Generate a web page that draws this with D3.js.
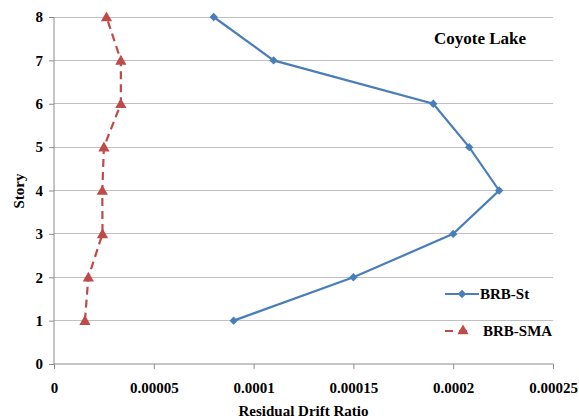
<!DOCTYPE html>
<html><head><meta charset="utf-8">
<script src="https://cdn.jsdelivr.net/npm/d3@7"></script>
<style>
body{margin:0;background:#fff;}
</style></head>
<body><svg id="c" width="579" height="419"></svg>
<script>
const stories = [1,2,3,4,5,6,7,8];
const brbSt = [0.00009,0.00015,0.0002,0.000223,0.000208,0.00019,0.00011,0.00008];
const brbSma = [0.0000155,0.0000172,0.0000243,0.0000242,0.000025,0.0000335,0.0000335,0.0000263];
const xTicks = [0,0.00005,0.0001,0.00015,0.0002,0.00025];
const xTickLabels = ["0","0.00005","0.0001","0.00015","0.0002","0.00025"];
const yTicks = [0,1,2,3,4,5,6,7,8];
const seriesNames = ["BRB-St","BRB-SMA"];
const title = "Coyote Lake";

const FONT = "'Liberation Serif'";
const svg = d3.select("#c");
const m = {l:54,r:553,t:17,b:364};
const x = d3.scaleLinear().domain([0,0.00025]).range([m.l,m.r]);
const y = d3.scaleLinear().domain([0,8]).range([m.b,m.t]);

// gridlines
svg.append("g").selectAll("line").data(yTicks.slice(1)).join("line")
  .attr("x1",m.l).attr("x2",m.r).attr("y1",d=>y(d)).attr("y2",d=>y(d))
  .attr("stroke","#c0c0c0").attr("stroke-width",1).attr("shape-rendering","crispEdges");

// y axis
const ya = svg.append("g").attr("transform",`translate(${m.l},0)`)
  .call(d3.axisLeft(y).tickValues(yTicks).tickSize(5).tickPadding(6).tickFormat(d3.format("d")));
ya.attr("font-family",FONT).attr("font-size",15).attr("font-weight","bold");
ya.select(".domain").attr("stroke","#8c8c8c").attr("d",`M0,${m.t}V${m.b}`);
ya.selectAll(".tick line").attr("stroke","#8c8c8c");
ya.selectAll("text").attr("fill","#000");

// x axis
const xa = svg.append("g").attr("transform",`translate(0,${m.b})`)
  .call(d3.axisBottom(x).tickValues(xTicks).tickSize(5).tickPadding(13).tickFormat((d,i)=>xTickLabels[i]));
xa.attr("font-family",FONT).attr("font-size",15).attr("font-weight","bold");
xa.select(".domain").attr("stroke","#8c8c8c").attr("d",`M${m.l},0H${m.r}`);
xa.selectAll(".tick line").attr("stroke","#8c8c8c");
xa.selectAll("text").attr("fill","#000");

const T = svg.append("g").attr("font-family",FONT).attr("font-weight","bold").attr("fill","#000");
// axis titles
T.append("text").attr("x",(m.l+m.r)/2).attr("y",416).attr("text-anchor","middle").attr("font-size",15).text("Residual Drift Ratio");
T.append("text").attr("transform","translate(24,191) rotate(-90)").attr("text-anchor","middle").attr("font-size",15).text("Story");
// chart title
T.append("text").attr("x",434).attr("y",44).attr("font-size",17).text(title);

const line = d3.line().x(d=>x(d[0])).y(d=>y(d[1]));
const stData = brbSt.map((v,i)=>[v,stories[i]]);
const smaData = brbSma.map((v,i)=>[v,stories[i]]);

svg.append("path").datum(stData).attr("d",line).attr("fill","none").attr("stroke","#4a7ebb").attr("stroke-width",2.2);
svg.append("g").selectAll("path").data(stData).join("path")
  .attr("d",d3.symbol(d3.symbolDiamond2,45)).attr("transform",d=>`translate(${x(d[0])},${y(d[1])})`).attr("fill","#4a7ebb");

svg.append("path").datum(smaData).attr("d",line).attr("fill","none").attr("stroke","#be4b48").attr("stroke-width",2.2).attr("stroke-dasharray","8,5");
svg.append("g").selectAll("path").data(smaData).join("path")
  .attr("d",d3.symbol(d3.symbolTriangle,55)).attr("transform",d=>`translate(${x(d[0])},${y(d[1])+1})`).attr("fill","#be4b48");

// legend
const lg = svg.append("g");
lg.append("line").attr("x1",445).attr("x2",479).attr("y1",294).attr("y2",294).attr("stroke","#4a7ebb").attr("stroke-width",2.2);
lg.append("path").attr("d",d3.symbol(d3.symbolDiamond2,45)).attr("transform","translate(462,294)").attr("fill","#4a7ebb");
T.append("text").attr("x",480).attr("y",299).attr("font-size",15).text(seriesNames[0]);
lg.append("line").attr("x1",445).attr("x2",472).attr("y1",331).attr("y2",331).attr("stroke","#be4b48").attr("stroke-width",2.2).attr("stroke-dasharray","8,6");
lg.append("path").attr("d",d3.symbol(d3.symbolTriangle,55)).attr("transform","translate(463,331)").attr("fill","#be4b48");
T.append("text").attr("x",483).attr("y",336).attr("font-size",15).text(seriesNames[1]);
</script></body></html>
